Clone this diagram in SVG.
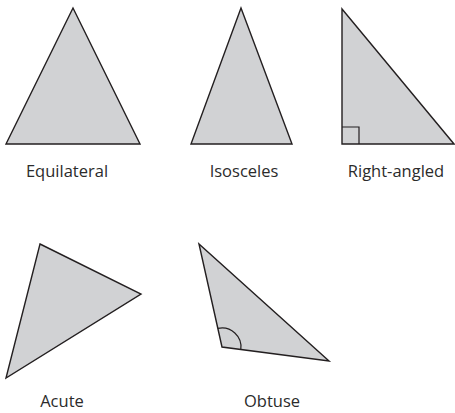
<svg xmlns="http://www.w3.org/2000/svg" width="455" height="413" viewBox="0 0 455 413">
<style>
.tri{fill:#d1d2d4;stroke:#231f20;stroke-width:1.4;stroke-linejoin:miter}
.mark{fill:none;stroke:#231f20;stroke-width:1.2}
.lbl{font-family:"Open Sans","Noto Sans",sans-serif;font-size:16.5px;fill:#2b2b2b;text-anchor:middle}
</style>
<rect width="455" height="413" fill="#ffffff"/>
<g id="equilateral">
<polygon class="tri" points="73,8 6,144 140,144"/>
<text class="lbl" x="67" y="177">Equilateral</text>
</g>
<g id="isosceles">
<polygon class="tri" points="241,8 191,144 292,144"/>
<text class="lbl" x="244" y="177">Isosceles</text>
</g>
<g id="right-angled">
<polygon class="tri" points="342,9 342,144 454,144"/>
<polyline class="mark" points="342,127 359,127 359,144"/>
<text class="lbl" x="396" y="177">Right-angled</text>
</g>
<g id="acute">
<polygon class="tri" points="40,244 141,294 6,378"/>
<text class="lbl" x="62" y="407">Acute</text>
</g>
<g id="obtuse">
<polygon class="tri" points="199,244 222,347 329,361"/>
<path class="mark" d="M217.9,328.4 A19,19 0 0 1 240.8,349.5"/>
<text class="lbl" x="272" y="407">Obtuse</text>
</g>
<g id="connectors"/>
</svg>
